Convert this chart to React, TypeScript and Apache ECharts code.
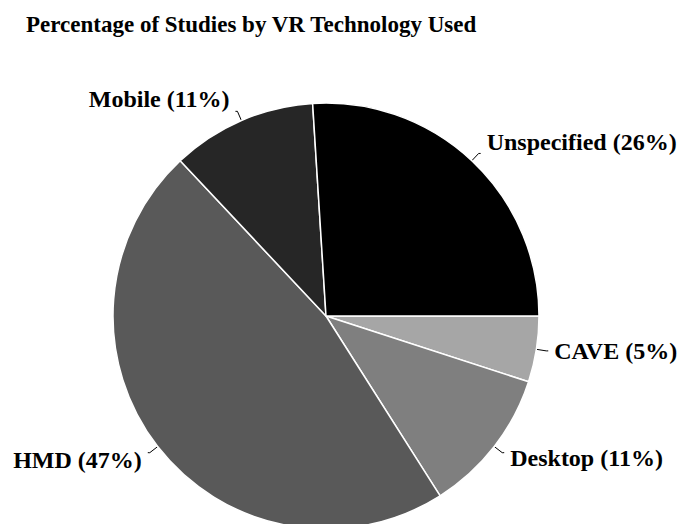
import React, { useEffect, useRef } from "react";
import * as echarts from "echarts";

const categories = ["CAVE", "Desktop", "HMD", "Mobile", "Unspecified"];
const values = [5, 11, 47, 11, 26];
const colors = ["#a6a6a6", "#7f7f7f", "#595959", "#262626", "#000000"];
// vertical label nudges to mimic original label placement relative to leader lines
const labelDy = [0, 5, 7, -12, -11];

const FONT = "'Liberation Serif', 'Times New Roman', serif";

export default function App() {
  const ref = useRef<HTMLDivElement>(null);
  useEffect(() => {
    if (!ref.current) return;
    const chart = echarts.init(ref.current, undefined, { renderer: "svg" });
    chart.setOption({
      animation: false,
      backgroundColor: "#ffffff",
      title: {
        text: "Percentage of Studies by VR Technology Used",
        left: 21,
        top: 8,
        textStyle: {
          fontFamily: FONT,
          fontWeight: "bold",
          fontSize: 23,
          color: "#000000",
        },
      },
      series: [
        {
          type: "pie",
          center: [326, 316],
          radius: 213,
          startAngle: 0,
          clockwise: true,
          avoidLabelOverlap: false,
          itemStyle: { borderColor: "#ffffff", borderWidth: 1.5 },
          label: {
            show: true,
            position: "outside",
            fontFamily: FONT,
            fontWeight: "bold",
            fontSize: 24,
            color: "#000000",
            width: 220,
            distanceToLabelLine: 6,
            formatter: (p: any) => `${p.name} (${Math.round(p.percent)}%)`,
          },
          labelLine: {
            show: true,
            length: 10,
            length2: 2,
            smooth: false,
            lineStyle: { color: "#000000", width: 1 },
          },
          labelLayout: (params: any) => ({ dy: labelDy[params.dataIndex] || 0 }),
          emphasis: { disabled: true },
          data: categories.map((name, i) => ({
            name,
            value: values[i],
            itemStyle: { color: colors[i] },
          })),
        },
      ],
    });
    return () => chart.dispose();
  }, []);
  return (
    <div
      ref={ref}
      style={{ position: "fixed", left: 0, top: 0, width: 679, height: 524, background: "#fff" }}
    />
  );
}
